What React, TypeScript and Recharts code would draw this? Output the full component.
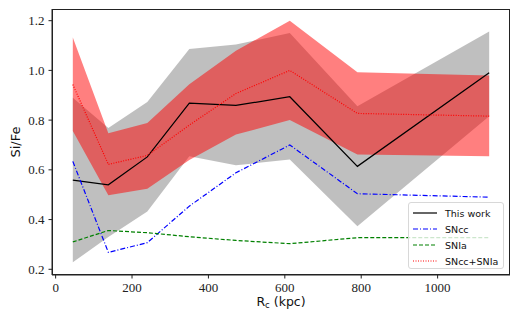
import { Area, ComposedChart, Line, XAxis, YAxis } from 'recharts';

const radius = [45, 138, 240, 350, 472, 613, 790, 1135];
const thisWork = [0.559, 0.54, 0.652, 0.868, 0.859, 0.894, 0.614, 0.991];
const thisWorkLow = [0.228, 0.33, 0.432, 0.655, 0.618, 0.642, 0.373, 0.816];
const thisWorkHigh = [0.89, 0.768, 0.873, 1.086, 1.104, 1.15, 0.856, 1.156];
const sncc = [0.634, 0.268, 0.307, 0.454, 0.588, 0.7, 0.504, 0.49];
const snia = [0.31, 0.356, 0.347, 0.331, 0.316, 0.303, 0.327, 0.327];
const mix = [0.943, 0.622, 0.658, 0.78, 0.907, 1.0, 0.827, 0.816];
const mixLow = [0.756, 0.498, 0.524, 0.64, 0.742, 0.8, 0.662, 0.655];
const mixHigh = [1.132, 0.747, 0.788, 0.944, 1.079, 1.2, 0.993, 0.98];

const xTicks = [0, 200, 400, 600, 800, 1000];
const yTicks = [0.2, 0.4, 0.6, 0.8, 1.0, 1.2];

const data = radius.map((r, i) => ({
  r,
  thisWork: thisWork[i],
  thisWorkBand: [thisWorkLow[i], thisWorkHigh[i]],
  sncc: sncc[i],
  snia: snia[i],
  mix: mix[i],
  mixBand: [mixLow[i], mixHigh[i]],
}));

const legendItems = [
  { label: 'This work', color: '#000000', dash: undefined },
  { label: 'SNcc', color: '#0000ff', dash: '5 2 1 2' },
  { label: 'SNIa', color: '#008000', dash: '4 2' },
  { label: 'SNcc+SNIa', color: '#ff0000', dash: '1 1.5' },
];

// plot rectangle (px)
const PLOT = { left: 52, top: 9, right: 510, bottom: 275 };

const serif = '"Liberation Serif", "DejaVu Serif", serif';
const sans = '"DejaVu Sans", sans-serif';

function XTick({ x, y, payload }: any) {
  return (
    <text x={x} y={y + 11} textAnchor="middle" fontFamily={serif} fontSize={13} fill="#222">
      {payload.value}
    </text>
  );
}

function YTick({ x, y, payload }: any) {
  return (
    <text x={x - 2} y={y + 4.5} textAnchor="end" fontFamily={serif} fontSize={13} fill="#222">
      {payload.value.toFixed(1)}
    </text>
  );
}

function LegendBox() {
  return (
    <div
      style={{
        position: 'absolute',
        left: 408,
        top: 202,
        width: 96,
        height: 67,
        boxSizing: 'border-box',
        border: '1px solid #d8d8d8',
        borderRadius: 3,
        background: 'rgba(255,255,255,0.8)',
        padding: '2px 0 0 3px',
      }}
    >
      {legendItems.map((it) => (
        <div key={it.label} style={{ display: 'flex', alignItems: 'center', height: 16 }}>
          <svg width={26} height={10} style={{ flex: 'none' }}>
            <line x1={1} y1={5} x2={25} y2={5} stroke={it.color} strokeWidth={1.2} strokeDasharray={it.dash} />
          </svg>
          <span style={{ fontFamily: sans, fontSize: 9.5, color: '#111', marginLeft: 7 }}>{it.label}</span>
        </div>
      ))}
    </div>
  );
}

export default function App() {
  return (
    <div style={{ position: 'absolute', left: 0, top: 0, width: 521, height: 313, background: '#fff' }}>
      <ComposedChart
        width={521}
        height={313}
        data={data}
        margin={{ top: PLOT.top, right: 521 - PLOT.right, left: PLOT.left - 40, bottom: 313 - PLOT.bottom - 30 }}
      >
        <XAxis
          dataKey="r"
          type="number"
          domain={[-9.5, 1189.5]}
          ticks={xTicks}
          tick={<XTick />}
          tickSize={3.5}
          axisLine={{ stroke: '#222', strokeWidth: 1 }}
          tickLine={{ stroke: '#222' }}
          height={30}
          allowDataOverflow
        />
        <YAxis
          type="number"
          domain={[0.177, 1.247]}
          ticks={yTicks}
          tick={<YTick />}
          tickSize={3.5}
          axisLine={{ stroke: '#222', strokeWidth: 1 }}
          tickLine={{ stroke: '#222' }}
          width={40}
          allowDataOverflow
        />
        <Area dataKey="thisWorkBand" type="linear" stroke="none" fill="#808080" fillOpacity={0.5} isAnimationActive={false} />
        <Area dataKey="mixBand" type="linear" stroke="none" fill="#ff0000" fillOpacity={0.5} isAnimationActive={false} />
        <Line dataKey="thisWork" type="linear" stroke="#000" strokeWidth={1.2} dot={false} isAnimationActive={false} />
        <Line dataKey="sncc" type="linear" stroke="#0000ff" strokeWidth={1.2} strokeDasharray="5 2 1 2" dot={false} isAnimationActive={false} />
        <Line dataKey="snia" type="linear" stroke="#008000" strokeWidth={1.2} strokeDasharray="4 2" dot={false} isAnimationActive={false} />
        <Line dataKey="mix" type="linear" stroke="#ff0000" strokeWidth={1.2} strokeDasharray="1 1.5" dot={false} isAnimationActive={false} />
      </ComposedChart>
      <div
        style={{
          position: 'absolute',
          left: PLOT.left,
          top: PLOT.top,
          width: PLOT.right - PLOT.left,
          height: PLOT.bottom - PLOT.top,
          boxSizing: 'border-box',
          border: '1px solid #222',
          pointerEvents: 'none',
        }}
      />
      <LegendBox />
      <div
        style={{
          position: 'absolute',
          left: 281,
          top: 295,
          transform: 'translateX(-50%)',
          fontFamily: sans,
          fontSize: 12.5,
          lineHeight: '14px',
          color: '#111',
          whiteSpace: 'nowrap',
        }}
      >
        R<sub style={{ fontSize: 8.5, verticalAlign: '-2px', lineHeight: 0 }}>c</sub> (kpc)
      </div>
      <div
        style={{
          position: 'absolute',
          left: 15,
          top: 142,
          transform: 'translate(-50%, -50%) rotate(-90deg)',
          fontFamily: sans,
          fontSize: 13,
          color: '#111',
          whiteSpace: 'nowrap',
        }}
      >
        Si/Fe
      </div>
    </div>
  );
}
